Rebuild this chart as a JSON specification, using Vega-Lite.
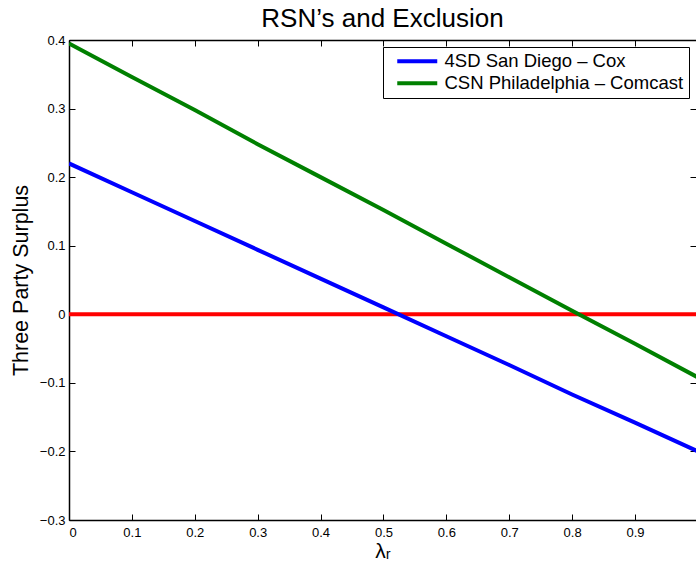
{
  "$schema": "https://vega.github.io/schema/vega-lite/v6.json",
  "width": 627,
  "height": 480,
  "autosize": {"type": "none"},
  "padding": {"left": 69, "top": 40, "right": 0, "bottom": 47},
  "background": "white",
  "title": {"text": "RSN’s and Exclusion", "font": "Liberation Sans", "fontSize": 26, "fontWeight": "normal", "color": "black", "anchor": "middle", "offset": 2},
  "config": {
    "view": {"stroke": null},
    "axis": {"labelFont": "Liberation Sans", "titleFont": "Liberation Sans", "labelColor": "black", "titleColor": "black", "domainColor": "black", "tickColor": "black", "grid": false, "labelFontSize": 13, "titleFontWeight": "normal"}
  },
  "datasets": {
    "lines": [
      {"lam": 0.0, "val": 0.220, "name": "4SD San Diego – Cox"},
      {"lam": 0.1, "val": 0.178, "name": "4SD San Diego – Cox"},
      {"lam": 0.2, "val": 0.136, "name": "4SD San Diego – Cox"},
      {"lam": 0.3, "val": 0.094, "name": "4SD San Diego – Cox"},
      {"lam": 0.4, "val": 0.052, "name": "4SD San Diego – Cox"},
      {"lam": 0.5, "val": 0.010, "name": "4SD San Diego – Cox"},
      {"lam": 0.6, "val": -0.032, "name": "4SD San Diego – Cox"},
      {"lam": 0.7, "val": -0.074, "name": "4SD San Diego – Cox"},
      {"lam": 0.8, "val": -0.117, "name": "4SD San Diego – Cox"},
      {"lam": 0.9, "val": -0.158, "name": "4SD San Diego – Cox"},
      {"lam": 1.0, "val": -0.200, "name": "4SD San Diego – Cox"},
      {"lam": 0.0, "val": 0.395, "name": "CSN Philadelphia – Comcast"},
      {"lam": 0.1, "val": 0.346, "name": "CSN Philadelphia – Comcast"},
      {"lam": 0.2, "val": 0.298, "name": "CSN Philadelphia – Comcast"},
      {"lam": 0.3, "val": 0.248, "name": "CSN Philadelphia – Comcast"},
      {"lam": 0.4, "val": 0.200, "name": "CSN Philadelphia – Comcast"},
      {"lam": 0.5, "val": 0.152, "name": "CSN Philadelphia – Comcast"},
      {"lam": 0.6, "val": 0.103, "name": "CSN Philadelphia – Comcast"},
      {"lam": 0.7, "val": 0.054, "name": "CSN Philadelphia – Comcast"},
      {"lam": 0.8, "val": 0.005, "name": "CSN Philadelphia – Comcast"},
      {"lam": 0.9, "val": -0.043, "name": "CSN Philadelphia – Comcast"},
      {"lam": 1.0, "val": -0.092, "name": "CSN Philadelphia – Comcast"}
    ],
    "zeroline": [
      {"lam": 0.0, "val": 0},
      {"lam": 1.0, "val": 0}
    ]
  },
  "layer": [
    {
      "data": {"name": "zeroline"},
      "mark": {"type": "line", "color": "#ff0000", "strokeWidth": 4, "clip": true},
      "encoding": {
        "x": {"field": "lam", "type": "quantitative", "scale": {"domain": [0, 0.997], "nice": false, "zero": false},
          "axis": {"orient": "bottom", "title": "λᵣ", "titleFontSize": 21, "titlePadding": 1, "values": [0, 0.1, 0.2, 0.3, 0.4, 0.5, 0.6, 0.7, 0.8, 0.9], "format": ".1~f", "tickSize": -6, "labelPadding": 12, "domainWidth": 1.5, "tickWidth": 1}},
        "y": {"field": "val", "type": "quantitative", "scale": {"domain": [-0.3, 0.4], "nice": false, "zero": false},
          "axis": {"orient": "left", "title": "Three Party Surplus", "titleFontSize": 21.5, "titlePadding": 7, "values": [-0.3, -0.2, -0.1, 0, 0.1, 0.2, 0.3, 0.4], "format": ".1~f", "tickSize": -6, "labelPadding": 10, "domainWidth": 1.5, "tickWidth": 1}}
      }
    },
    {
      "data": {"name": "lines"},
      "mark": {"type": "line", "strokeWidth": 4, "clip": true},
      "encoding": {
        "x": {"field": "lam", "type": "quantitative",
          "axis": {"orient": "top", "title": null, "labels": false, "values": [0, 0.1, 0.2, 0.3, 0.4, 0.5, 0.6, 0.7, 0.8, 0.9], "tickSize": -6, "domainWidth": 1.5, "tickWidth": 1}},
        "y": {"field": "val", "type": "quantitative",
          "axis": {"orient": "right", "title": null, "labels": false, "domain": false, "values": [-0.3, -0.2, -0.1, 0, 0.1, 0.2, 0.3, 0.4], "tickSize": -6, "tickWidth": 1}},
        "color": {"field": "name", "type": "nominal",
          "scale": {"domain": ["4SD San Diego – Cox", "CSN Philadelphia – Comcast"], "range": ["#0000ff", "#008000"]},
          "legend": {"title": null, "orient": "top-right", "offset": 7, "fillColor": "white", "strokeColor": "black", "padding": 5, "labelFont": "Liberation Sans", "labelFontSize": 18.5, "labelColor": "black", "labelLimit": 400, "symbolType": "M0,0H8", "symbolSize": 100, "symbolStrokeWidth": 4, "rowPadding": 3, "labelOffset": 38, "cornerRadius": 0}}
      }
    }
  ],
  "resolve": {"axis": {"x": "independent", "y": "independent"}}
}
